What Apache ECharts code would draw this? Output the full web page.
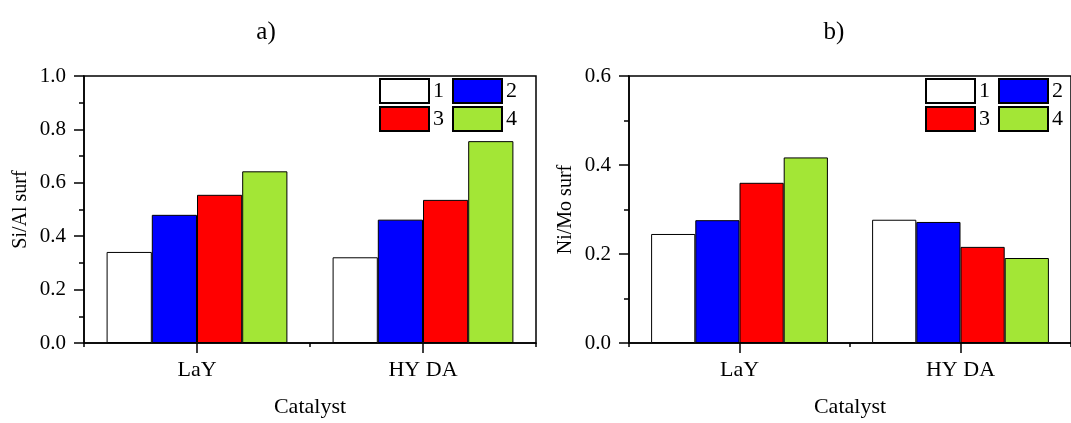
<!DOCTYPE html>
<html>
<head>
<meta charset="utf-8">
<script src="https://cdn.jsdelivr.net/npm/echarts@6/dist/echarts.min.js"></script>
<style>
html,body{margin:0;padding:0;background:#fff;}
#c{width:1071px;height:423px;}
</style>
</head>
<body>
<div id="c"></div>
<script>
const categories = ['LaY', 'HY DA'];
const seriesNames = ['1', '2', '3', '4'];
// Si/Al surf (panel a), per series: [LaY, HY DA]
const siAl1 = [0.341, 0.321];
const siAl2 = [0.480, 0.462];
const siAl3 = [0.555, 0.536];
const siAl4 = [0.643, 0.756];
// Ni/Mo surf (panel b)
const niMo1 = [0.245, 0.277];
const niMo2 = [0.276, 0.272];
const niMo3 = [0.360, 0.216];
const niMo4 = [0.417, 0.191];
const panelTitles = ['a)', 'b)'];
const yNames = ['Si/Al surf', 'Ni/Mo surf'];
const xName = 'Catalyst';
const colors = ['#ffffff', '#0000ff', '#ff0000', '#a3e636'];

const FONT = 'Liberation Serif';
const black = '#000';

const chart = echarts.init(document.getElementById('c'));

function mainX(gi) {
  return {
    type: 'category', gridIndex: gi, data: categories, position: 'bottom',
    name: xName, nameLocation: 'middle', nameGap: 53,
    nameTextStyle: { fontFamily: FONT, fontSize: 22, color: black },
    axisLine: { show: true, lineStyle: { color: black, width: 1.5 } },
    axisTick: { show: true, alignWithLabel: true, length: 10, lineStyle: { color: black, width: 1.5 } },
    axisLabel: { fontFamily: FONT, fontSize: 22, color: black, margin: 16 },
    splitLine: { show: false }
  };
}
function boundX(gi) {
  return {
    type: 'category', gridIndex: gi, data: categories, position: 'bottom',
    axisLine: { show: false },
    axisTick: { show: true, alignWithLabel: false, length: 4, lineStyle: { color: black, width: 1.5 } },
    axisLabel: { show: false },
    splitLine: { show: false }
  };
}
function yAx(gi, max, name) {
  return {
    type: 'value', gridIndex: gi, min: 0, max: max, interval: 0.2,
    name: name, nameLocation: 'middle', nameGap: 53,
    nameTextStyle: { fontFamily: FONT, fontSize: 20, color: black },
    axisLine: { show: true, lineStyle: { color: black, width: 1.5 } },
    axisTick: { show: true, inside: false, length: 10, lineStyle: { color: black, width: 1.5 } },
    minorTick: { show: true, splitNumber: 2, length: 5, lineStyle: { color: black, width: 1.5 } },
    axisLabel: { fontFamily: FONT, fontSize: 21, color: black, margin: 18, formatter: v => v.toFixed(1) },
    splitLine: { show: false }
  };
}
function bar(name, data, color, xi, yi) {
  return {
    type: 'bar', name: name, data: data, xAxisIndex: xi, yAxisIndex: yi,
    barGap: '0%', barCategoryGap: '20%',
    itemStyle: { color: color, borderColor: black, borderWidth: 1 },
    emphasis: { disabled: true }
  };
}
function legend(names, left, top) {
  return {
    data: names, left: left, top: top, orient: 'horizontal', padding: 0,
    itemWidth: 49, itemHeight: 24, itemGap: 8, icon: 'rect', selectedMode: false,
    textStyle: { fontFamily: FONT, fontSize: 22, color: black, padding: [0, 0, 0, -1] }
  };
}

const aSeries = [siAl1, siAl2, siAl3, siAl4];
const bSeries = [niMo1, niMo2, niMo3, niMo4];

chart.setOption({
  animation: false,
  backgroundColor: '#fff',
  title: [
    { text: panelTitles[0], left: 261, top: 15, textAlign: 'center', textStyle: { fontFamily: FONT, fontSize: 25, fontWeight: 'normal', color: black } },
    { text: panelTitles[1], left: 829, top: 15, textAlign: 'center', textStyle: { fontFamily: FONT, fontSize: 25, fontWeight: 'normal', color: black } }
  ],
  grid: [
    { left: 84, top: 76, width: 452, height: 269, show: true, borderColor: black, borderWidth: 1.5, backgroundColor: 'transparent' },
    { left: 629, top: 76, width: 452, height: 269, show: true, borderColor: black, borderWidth: 1.5, backgroundColor: 'transparent' }
  ],
  xAxis: [mainX(0), boundX(0), mainX(1), boundX(1)],
  yAxis: [yAx(0, 1.0, yNames[0]), yAx(1, 0.6, yNames[1])],
  legend: [
    legend([seriesNames[0], seriesNames[1]], 379, 78),
    legend([seriesNames[2], seriesNames[3]], 379, 106),
    legend([seriesNames[0], seriesNames[1]], 925, 78),
    legend([seriesNames[2], seriesNames[3]], 925, 106)
  ],
  series: [
    ...aSeries.map((d, i) => bar(seriesNames[i], d, colors[i], 0, 0)),
    ...bSeries.map((d, i) => bar(seriesNames[i], d, colors[i], 2, 1))
  ]
});
</script>
</body>
</html>
